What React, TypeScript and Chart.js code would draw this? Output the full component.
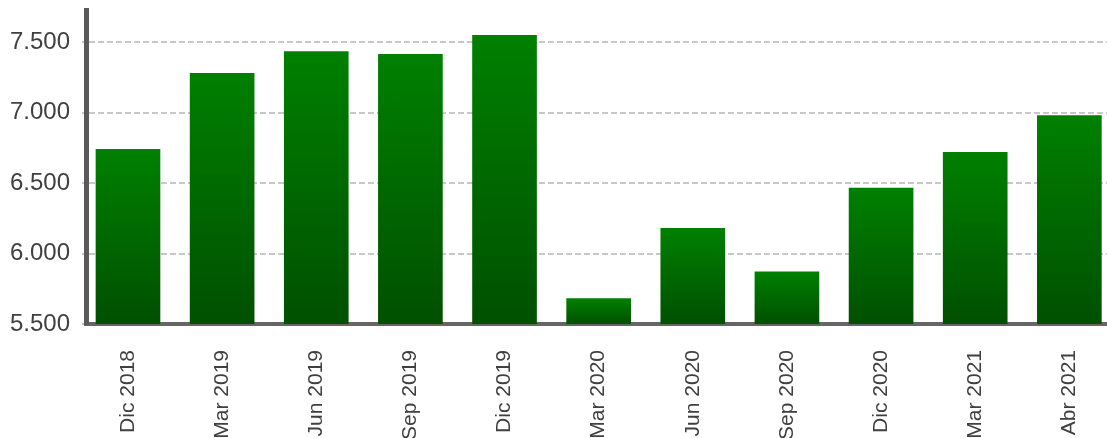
import React, { useEffect, useRef } from "react";
import { Chart, registerables } from "chart.js";

Chart.register(...registerables);

const categories = ["Dic 2018", "Mar 2019", "Jun 2019", "Sep 2019", "Dic 2019", "Mar 2020", "Jun 2020", "Sep 2020", "Dic 2020", "Mar 2021", "Abr 2021"];
const values = [6740, 7280, 7435, 7415, 7550, 5680, 6180, 5870, 6465, 6720, 6980];
const yTicks = [5500, 6000, 6500, 7000, 7500];
const yMin = 5500;
const yMax = 7730;

const fmt = (v: number) => {
  const s = Math.round(v).toString();
  return s.replace(/\B(?=(\d{3})+(?!\d))/g, ".");
};

export default function App() {
  const ref = useRef<HTMLCanvasElement | null>(null);
  useEffect(() => {
    if (!ref.current) return;
    const chart = new Chart(ref.current, {
      type: "bar",
      data: {
        datasets: [
          {
            data: values.map((v, i) => ({ x: i, y: v })),
            barThickness: 64,
            borderWidth: 0,
            backgroundColor: (ctx: any) => {
              const c = ctx.chart;
              const ys = c.scales.y;
              if (!ys || ctx.raw == null) return "#006a00";
              const top = ys.getPixelForValue(ctx.raw.y);
              const base = ys.getPixelForValue(yMin);
              if (!isFinite(top) || !isFinite(base) || base - top < 1) return "#006a00";
              const g = c.ctx.createLinearGradient(0, top, 0, base);
              g.addColorStop(0, "#008000");
              g.addColorStop(1, "#005000");
              return g;
            },
          } as any,
        ],
      },
      options: {
        animation: false,
        responsive: false,
        maintainAspectRatio: false,
        layout: { padding: { top: 10, right: 0, left: 0, bottom: 0 } },
        plugins: { legend: { display: false }, tooltip: { enabled: false } },
        scales: {
          x: {
            type: "linear",
            offset: false,
            bounds: "ticks",
            min: -0.446,
            max: 10.4,
            afterBuildTicks: (s: any) => {
              s.ticks = categories.map((_, i) => ({ value: i }));
            },
            afterFit: (s: any) => {
              s.height = 114;
              s.paddingLeft = 0;
              s.paddingRight = 0;
            },
            grid: { display: false, drawTicks: false },
            border: { display: true, color: "#666666", width: 4 },
            ticks: {
              autoSkip: false,
              minRotation: 90,
              maxRotation: 90,
              padding: 26,
              color: "#404040",
              font: { family: "'Liberation Sans', Arial, sans-serif", size: 21 },
              callback: (v: any) => categories[Math.round(Number(v))] ?? "",
            },
          },
          y: {
            min: yMin,
            max: yMax,
            afterBuildTicks: (s: any) => {
              s.ticks = yTicks.map((v) => ({ value: v }));
            },
            afterFit: (s: any) => {
              s.width = 86;
              s.paddingTop = 0;
              s.paddingBottom = 0;
            },
            grid: {
              color: "#c8c8c8",
              lineWidth: 2,
              tickLength: 4,
              drawTicks: true,
            },
            border: { display: true, color: "#5a5a5a", width: 5, dash: [6, 3] as any },
            ticks: {
              padding: 12,
              color: "#404040",
              font: { family: "'Liberation Sans', Arial, sans-serif", size: 24 },
              callback: (v: any) => fmt(Number(v)),
            },
          },
        },
      } as any,
    });
    return () => chart.destroy();
  }, []);
  return (
    <div style={{ position: "fixed", left: 0, top: 0, width: 1107, height: 438 }}>
      <canvas ref={ref} width={1107} height={438} style={{ width: 1107, height: 438 }} />
    </div>
  );
}
